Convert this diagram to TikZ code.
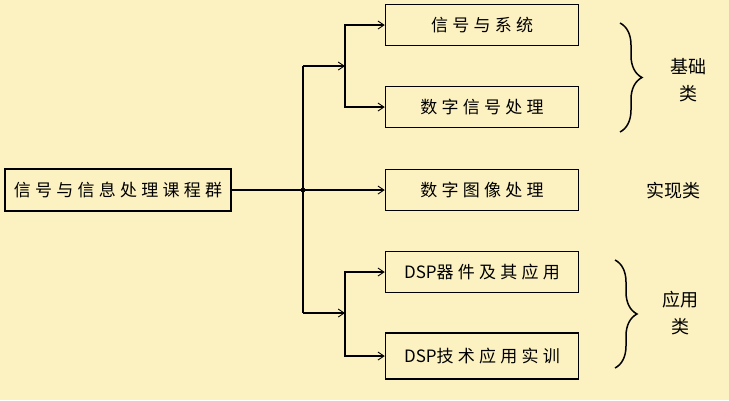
\documentclass[tikz,border=0pt]{standalone}
\usepackage{fontspec}
\usepackage{tikz}
\usetikzlibrary{arrows.meta, decorations.pathreplacing}
\newfontfamily\boxfont[LetterSpace=25]{Noto Sans CJK SC}
\newfontfamily\tagfont{Noto Sans CJK SC}
\definecolor{paper}{RGB}{252,241,193}
\tikzstyle{course} = [rectangle, minimum width=193pt, minimum height=41pt, text centered, draw=black, line width=1.5pt, fill=paper, font=\boxfont\fontsize{17}{20}\selectfont]
\tikzstyle{group} = [rectangle, minimum width=226pt, minimum height=42pt, text centered, draw=black, line width=1.5pt, fill=paper, font=\boxfont\fontsize{17}{20}\selectfont]
\tikzstyle{tag} = [align=center, font=\tagfont\fontsize{18}{27}\selectfont]
\tikzstyle{line} = [line width=1.5pt]
\tikzstyle{arrow} = [line width=1.5pt,-{Straight Barb[length=6pt,width=8pt,line width=0.9pt]}]
\tikzstyle{curly} = [line width=1.5pt, decorate, decoration={brace, amplitude=22pt}]

\begin{document}
\begin{tikzpicture}[x=1pt, y=-1pt]
						\useasboundingbox[fill=paper] (0,0) rectangle (729,400);
						\node (group) [group] at (118,190) {信号与信息处理课程群};
						\node (sig) [course] at (482,25) {信号与系统};
						\node (dsp) [course] at (482,107) {数字信号处理};
						\node (img) [course] at (482,190) {数字图像处理};
						\node (chip) [course] at (482,272) {{\tagfont DSP}器件及其应用};
						\node (lab) [course, minimum height=46pt] at (482,356) {{\tagfont DSP}技术应用实训};
						\node (base) [tag] at (688,80) {基础\\类};
						\node (real) [tag] at (673,191) {实现类};
						\node (app) [tag] at (680,313) {应用\\类};
						\coordinate (dot) at (303,190);
						\coordinate (up) at (303,66);
						\coordinate (down) at (303,313);
						\coordinate (fork1) at (345,66);
						\coordinate (fork2) at (345,313);
						\draw [line] (group) -- (dot);
						\fill (dot) circle (2.4);
						\draw [arrow] (dot) -- (img);
						\draw [line] (up) -- (down);
						\draw [arrow] (up) -- (fork1);
						\draw [arrow] (down) -- (fork2);
						\draw [arrow] (fork1) |- (sig.west);
						\draw [arrow] (fork1) |- (dsp.west);
						\draw [arrow] (fork2) |- (chip.west);
						\draw [arrow] (fork2) |- (lab.west);
						\draw [curly] (620,23) -- (620,132);
						\draw [curly] (615,260) -- (615,368);
					\end{tikzpicture}
\end{document}
